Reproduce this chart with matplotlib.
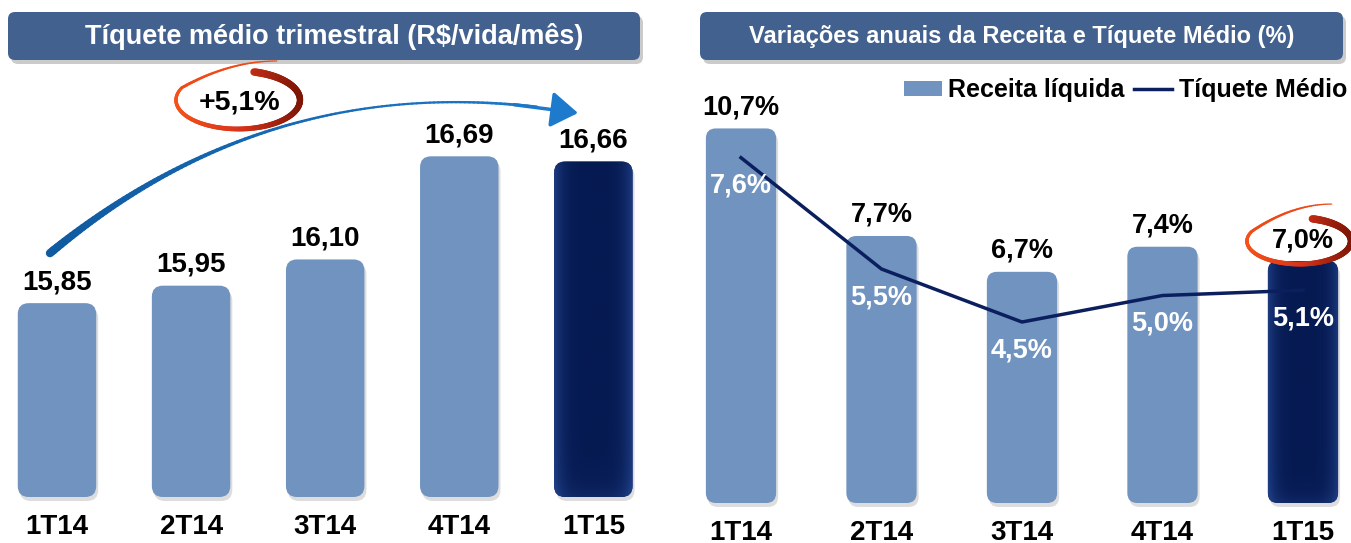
import matplotlib
matplotlib.use('Agg')
import matplotlib.pyplot as plt
from matplotlib.patches import FancyBboxPatch, FancyArrowPatch
from matplotlib.collections import LineCollection
from matplotlib.colors import LinearSegmentedColormap, to_rgb
import numpy as np

plt.rcParams['font.family'] = ['Liberation Sans', 'DejaVu Sans']
plt.rcParams['font.weight'] = 'bold'

# ---------------- data ----------------
categories = ['1T14', '2T14', '3T14', '4T14', '1T15']
ticket_values = [15.85, 15.95, 16.10, 16.69, 16.66]          # R$/vida/mês
receita_var = [10.7, 7.7, 6.7, 7.4, 7.0]                      # % a/a receita líquida
ticket_var = [7.6, 5.5, 4.5, 5.0, 5.1]                        # % a/a tíquete médio
left_title = 'Tíquete médio trimestral (R$/vida/mês)'
right_title = 'Variações anuais da Receita e Tíquete Médio (%)'
growth_label = '+5,1%'
legend_labels = ['Receita líquida', 'Tíquete Médio']

LIGHT = '#7093C0'
DARK = '#0B2361'
LINE = '#0B1F5E'
TITLE_BG = '#42618E'


def br(v, dec=2, pct=False):
    s = f"{v:.{dec}f}".replace('.', ',')
    return s + ('%' if pct else '')


W, H = 1351, 543
fig = plt.figure(figsize=(W / 100, H / 100), dpi=100)
fig.patch.set_facecolor('white')
inch = fig.dpi_scale_trans


def px_axes(x0, y0, x1, y1):
    return fig.add_axes([x0 / W, 1 - y1 / H, (x1 - x0) / W, (y1 - y0) / H])


def P(x, y):
    """pixel (from top-left) -> inches for dpi_scale_trans"""
    return (x / 100, (H - y) / 100)


def to_px(ax, x, y):
    d = ax.transData.transform((x, y))
    return d[0], H - d[1]


def clean(ax):
    for s in ax.spines.values():
        s.set_visible(False)
    ax.set_yticks([])
    ax.tick_params(axis='x', length=0)
    ax.patch.set_alpha(0)


def round_bars(ax, bars, colors, r_px=10):
    t = ax.transData
    o = t.transform((0, 0))
    ppx = t.transform((1, 0))[0] - o[0]
    ppy = t.transform((0, 1))[1] - o[1]
    for rect, c in zip(bars, colors):
        x, y, w, h = rect.get_x(), rect.get_y(), rect.get_width(), rect.get_height()
        rect.set_visible(False)
        style = f"round,pad=0,rounding_size={r_px / ppx}"
        sh = FancyBboxPatch((x + 2 / ppx, y - 4 / ppy), w, h, boxstyle=style,
                            mutation_aspect=ppx / ppy, fc='#a0a0a0', ec='none',
                            alpha=0.35, zorder=1, clip_on=False)
        ax.add_patch(sh)
        p = FancyBboxPatch((x, y), w, h, boxstyle=style,
                           mutation_aspect=ppx / ppy, fc=c, ec='none', zorder=2,
                           clip_on=False)
        ax.add_patch(p)
        if c == DARK:
            # glossy look: lighter edges, darker centre
            g = np.linspace(-1, 1, 200)
            prof = np.abs(g) ** 4
            top = np.linspace(0, 1, 200)[:, None]
            img = np.clip(prof[None, :] * 0.9 + 0.35 * np.exp(-top * 25), 0, 1)
            cmap = LinearSegmentedColormap.from_list('gl', ['#061a52', '#1f3f86'])
            im = ax.imshow(img, extent=(x, x + w, y + h, y), cmap=cmap, aspect='auto',
                           zorder=2.5, interpolation='bilinear', vmin=0, vmax=1)
            im.set_clip_path(p)


def title_box(x0, y0, x1, y1, text, fs, tx=None):
    sh = FancyBboxPatch(P(x0 + 3, y1 + 4), (x1 - x0) / 100, (y1 - y0) / 100,
                        boxstyle="round,pad=0,rounding_size=0.07",
                        transform=inch, fc='#8c8c8c', ec='none', alpha=0.45)
    fig.patches.append(sh)
    bx = FancyBboxPatch(P(x0, y1), (x1 - x0) / 100, (y1 - y0) / 100,
                        boxstyle="round,pad=0,rounding_size=0.07",
                        transform=inch, fc=TITLE_BG, ec='none')
    fig.patches.append(bx)
    cx, cy = P(tx if tx is not None else (x0 + x1) / 2, (y0 + y1) / 2)
    fig.text(cx, cy, text, transform=inch, ha='center', va='center',
             color='white', fontsize=fs, fontweight='bold')


def grad_path(xs, ys, widths_px, colors):
    pts = np.column_stack([np.asarray(xs) / 100, (H - np.asarray(ys)) / 100])
    segs = np.stack([pts[:-1], pts[1:]], axis=1)
    lc = LineCollection(segs, linewidths=np.asarray(widths_px[:-1]) * 0.72,
                        colors=colors[:-1], transform=inch, capstyle='round')
    fig.add_artist(lc)


def swoosh(cx, cy, w, h, tail_end):
    # start at top-right (thick, dark) and go clockwise round to top-left
    ang = np.deg2rad(np.linspace(75, -205, 160))
    xs = cx + w / 2 * np.cos(ang)
    ys = cy - h / 2 * np.sin(ang)
    s = np.linspace(0, 1, len(ang))
    widths = 7.5 - 4.5 * s
    c_dark, c_red, c_or = np.array(to_rgb('#7E1606')), np.array(to_rgb('#D8341A')), np.array(to_rgb('#F5521A'))
    fx = (xs - (cx - w / 2)) / w
    cols = [tuple(c_or + (c_red - c_or) * min(1, f * 2)) if f < 0.5 else
            tuple(c_red + (c_dark - c_red) * min(1, (f - 0.5) * 2)) for f in fx]
    grad_path(xs, ys, widths, cols)
    # thin tail from the top-left going up to the right
    tx = np.linspace(xs[-1], tail_end[0], 40)
    tt = np.linspace(0, 1, 40)
    ty = ys[-1] + (tail_end[1] - ys[-1]) * (1 - (1 - tt) ** 2)
    grad_path(tx, ty, np.linspace(3, 1.0, 40), [to_rgb('#EE4A18')] * 40)


# ---------------- left panel ----------------
axL = px_axes(0, 70, 660, 497)
xL = np.arange(len(categories))
baseL = 14.741
axL.set_xlim(-0.425, 4.497)
axL.set_ylim(baseL, baseL + 427 / 174.8)
colorsL = [LIGHT] * 4 + [DARK]
barsL = axL.bar(xL, [v - baseL for v in ticket_values], width=0.585, bottom=baseL,
                color=colorsL)
round_bars(axL, barsL, colorsL, r_px=11)
clean(axL)
axL.set_xticks(xL, categories, fontsize=20, fontweight='bold')
axL.tick_params(axis='x', pad=12)
for i, v in enumerate(ticket_values):
    axL.annotate(br(v, 2), (i, v), xytext=(0, 8), textcoords='offset pixels',
                 ha='center', va='bottom', fontsize=20, fontweight='bold', zorder=5)

# ---------------- right panel ----------------
axR = px_axes(690, 70, 1351, 503)
xR = np.arange(len(categories))
baseR = 0.251
axR.set_xlim(-0.363, 4.342)
axR.set_ylim(baseR, 12.33)
colorsR = [LIGHT] * 4 + [DARK]
barsR = axR.bar(xR, [v - baseR for v in receita_var], width=0.5, bottom=baseR,
                color=colorsR, label=legend_labels[0])
round_bars(axR, barsR, colorsR, r_px=10)
clean(axR)
axR.set_xticks(xR, categories, fontsize=20, fontweight='bold')
axR.tick_params(axis='x', pad=12)
for i, v in enumerate(receita_var):
    axR.annotate(br(v, 1, True), (i, v), xytext=(0, 8), textcoords='offset pixels',
                 ha='center', va='bottom', fontsize=19.5, fontweight='bold', zorder=5)

ax2 = axR.twinx()
ax2.set_ylim(1.085, 9.255)
for s in ax2.spines.values():
    s.set_visible(False)
ax2.set_yticks([])
line, = ax2.plot(xR, ticket_var, color=LINE, lw=2.5, zorder=3, label=legend_labels[1])
for i, v in enumerate(ticket_var):
    ax2.annotate(br(v, 1, True), (i, v), xytext=(0, -28), textcoords='offset pixels',
                 ha='center', va='center', fontsize=19.5, fontweight='bold',
                 color='white', zorder=6)

leg = fig.legend([barsR[0], line], legend_labels, loc='center right',
                 bbox_to_anchor=(1347 / W, 1 - 90 / H), ncol=2, frameon=False,
                 prop={'size': 18, 'weight': 'bold'}, handlelength=1.55,
                 handleheight=0.55, handletextpad=0.25, columnspacing=0.35,
                 borderpad=0, borderaxespad=0)
leg.legend_handles[0].set_visible(True)
leg.legend_handles[0].set_facecolor(LIGHT)

# ---------------- decorations ----------------
title_box(8, 12, 640, 60, left_title, 19.5, tx=334)
title_box(700, 12, 1343, 60, right_title, 17)

# curved growth arrow (quadratic curve, tapering width), starting above the 1T14 label
sx, sy = to_px(axL, 0, ticket_values[0])
p0 = np.array([sx - 7, sy - 50.0])
p2 = np.array([578.0, 113.0])
d = p2 - p0
mid = (p0 + p2) / 2
rad = 0.23
ctrl = mid + rad * np.array([d[1], -d[0]])   # pixel coords, y down
t = np.linspace(0, 0.93, 120)[:, None]
curve = (1 - t) ** 2 * p0 + 2 * t * (1 - t) * ctrl + t ** 2 * p2
tt = t[:, 0]
wid = 1.8 + 6.5 * (1 - tt) ** 3 + 2.0 * tt ** 6
c0, c1 = np.array(to_rgb('#0F5AA0')), np.array(to_rgb('#1E7ACC'))
cols = [tuple(c0 + (c1 - c0) * v) for v in tt]
grad_path(curve[:, 0], curve[:, 1], wid, cols)
tail = curve[-6]
arrow = FancyArrowPatch(P(*tail), P(*p2), transform=inch,
                        arrowstyle="-|>,head_length=0.75,head_width=0.5",
                        mutation_scale=22, color='#1E7ACC', lw=2.5, shrinkA=0, shrinkB=0)
fig.patches.append(arrow)

swoosh(238, 100, 124, 58, (277, 61))
fig.text(*P(240, 103), growth_label, transform=inch, ha='center', va='center',
         fontsize=20.5, fontweight='bold')

# ellipse round the 1T15 revenue label
lx, ly = to_px(axR, 4, receita_var[4])
swoosh(lx - 4, ly - 20, 104, 46, (lx + 29, ly - 57))

fig.savefig('out.png', dpi=100, facecolor='white')
